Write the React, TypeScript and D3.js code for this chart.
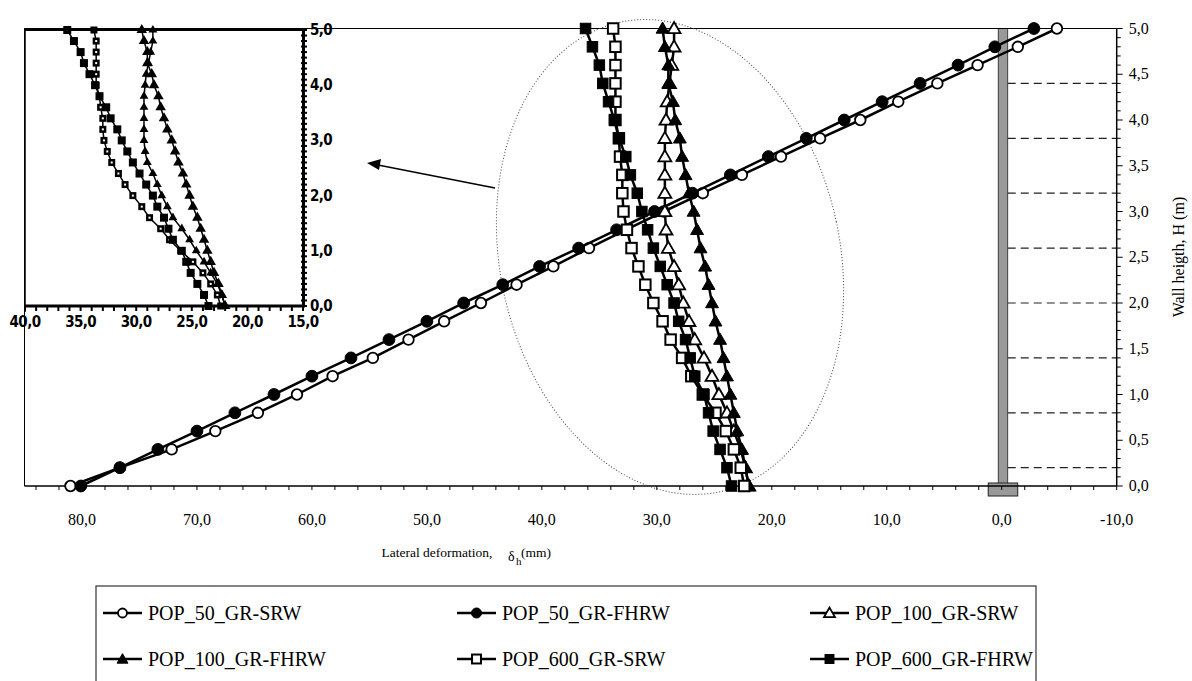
import React from "react";
import * as d3 from "d3";

// wall height (m) of every measured point
const heights = [0.0, 0.2, 0.4, 0.6, 0.8, 1.0, 1.2, 1.4, 1.6, 1.8, 2.0, 2.2, 2.4, 2.6, 2.8, 3.0, 3.2, 3.4, 3.6, 3.8, 4.0, 4.2, 4.4, 4.6, 4.8, 5.0];

// lateral deformation (mm) per series, bottom to top
const pop50Srw = [81.0, 76.7, 72.2, 68.4, 64.7, 61.3, 58.2, 54.7, 51.6, 48.5, 45.3, 42.2, 39.0, 35.9, 32.7, 29.4, 26.0, 22.6, 19.2, 15.8, 12.3, 9.0, 5.6, 2.1, -1.4, -4.8];
const pop50Fhrw = [80.1, 76.7, 73.4, 70.0, 66.7, 63.3, 60.0, 56.6, 53.3, 50.0, 46.8, 43.4, 40.2, 36.8, 33.5, 30.2, 26.9, 23.6, 20.3, 17.0, 13.7, 10.4, 7.1, 3.8, 0.6, -2.8];
const pop100Srw = [22.0, 22.3, 22.7, 23.3, 23.9, 24.6, 25.2, 25.9, 26.7, 27.2, 27.7, 28.1, 28.5, 29.0, 29.2, 29.3, 29.3, 29.3, 29.3, 29.3, 29.2, 29.1, 28.9, 28.7, 28.5, 28.5];
const pop100Fhrw = [22.0, 22.3, 22.6, 23.0, 23.3, 23.6, 23.9, 24.2, 24.5, 24.9, 25.2, 25.5, 25.8, 26.2, 26.5, 26.8, 27.2, 27.5, 27.8, 28.0, 28.4, 28.6, 29.0, 29.0, 29.3, 29.5];
const pop600Srw = [22.4, 22.7, 23.3, 24.0, 24.9, 26.0, 27.0, 27.8, 28.8, 29.5, 30.3, 31.0, 31.6, 32.2, 32.6, 32.9, 33.0, 33.0, 33.2, 33.3, 33.6, 33.6, 33.6, 33.6, 33.6, 33.8];
const pop600Fhrw = [23.5, 23.9, 24.5, 25.1, 25.5, 25.9, 26.7, 27.1, 27.5, 28.1, 28.5, 29.1, 29.7, 30.3, 30.8, 31.3, 31.7, 32.3, 32.7, 33.3, 33.7, 34.2, 34.7, 35.0, 35.6, 36.2];

const seriesNames = ["POP_50_GR-SRW", "POP_50_GR-FHRW", "POP_100_GR-SRW", "POP_100_GR-FHRW", "POP_600_GR-SRW", "POP_600_GR-FHRW"];
const seriesValues = [pop50Srw, pop50Fhrw, pop100Srw, pop100Fhrw, pop600Srw, pop600Fhrw];
const seriesMarkers = ["circleOpen", "circle", "triangleOpen", "triangle", "squareOpen", "square"];

const xTicks = [80, 70, 60, 50, 40, 30, 20, 10, 0, -10];
const yTicks = [0, 0.5, 1.0, 1.5, 2.0, 2.5, 3.0, 3.5, 4.0, 4.5, 5.0];
const reinforcement = [0.2, 0.8, 1.4, 2.0, 2.6, 3.2, 3.8, 4.4];

const insetXTicks = [40, 35, 30, 25, 20, 15];
const insetYTicks = [0, 1, 2, 3, 4, 5];

const fmt = v => v.toFixed(1).replace(".", ",");
const serif = "'Liberation Serif', 'Times New Roman', serif";
const narrow = "'Liberation Sans Narrow', 'DejaVu Sans Condensed', sans-serif";

const Marker = ({kind, cx, cy, scale = 1}) => {
    const open = kind.endsWith("Open");
    const fill = open ? "#fff" : "#000";
    if (kind.startsWith("circle")) {
        return <circle cx={cx} cy={cy} r={(open ? 5.3 : 5.9) * scale} fill={fill} stroke="#000" strokeWidth={open ? 1.8 : 1}/>;
    }
    if (kind.startsWith("square")) {
        const s = 10.5 * scale;
        return <rect x={cx - s / 2} y={cy - s / 2} width={s} height={s} fill={fill} stroke="#000" strokeWidth={open ? 2 : 1}/>;
    }
    const path = d3.symbol().type(d3.symbolTriangle).size(72 * scale * scale)();
    return <path d={path} transform={`translate(${cx},${cy + 1})`} fill={fill} stroke="#000" strokeWidth={open ? 1.8 : 1}/>;
};

const App = () => {
    const x = d3.scaleLinear().domain([85, -10]).range([24.5, 1116.7]);
    const y = d3.scaleLinear().domain([0, 5]).range([486, 28.5]);
    const xi = d3.scaleLinear().domain([40, 15]).range([25, 303]);
    const yi = d3.scaleLinear().domain([0, 5]).range([306, 30]);

    const line = d3.line().x(d => x(d[0])).y(d => y(d[1]));
    const insetLine = d3.line().x(d => xi(d[0])).y(d => yi(d[1]));

    const minorX = d3.range(84, -10.5, -2);
    const minorY = d3.range(0, 5.01, 0.1);
    const insetMinorX = d3.range(40, 14.5, -1);
    const insetMinorY = d3.range(0, 5.01, 0.1);

    const [x0, x1] = x.range();
    const wallX = x(0);

    const legendCols = [103, 457, 810];
    const legendRows = [613, 659];

    return (
        <svg width={1192} height={681} style={{position: "absolute", left: 0, top: 0, background: "#fff"}}>
            <rect width={1192} height={681} fill="#fff"/>

            {/* reinforcement layers */}
            {reinforcement.map(h => (
                <line key={h} x1={wallX + 6} x2={x1} y1={y(h)} y2={y(h)} stroke="#222" strokeWidth={1.2} strokeDasharray="8,5"/>
            ))}

            {/* wall and footing */}
            <rect x={wallX - 3.5} y={y(5)} width={9.5} height={y(0) - y(5)} fill="#999" stroke="#222" strokeWidth={0.8}/>
            <rect x={wallX - 13.5} y={483} width={29.5} height={13} fill="#999" stroke="#222" strokeWidth={1}/>

            {/* frame */}
            <line x1={x0} x2={x1} y1={y(5)} y2={y(5)} stroke="#000" strokeWidth={1}/>
            <line x1={x0} x2={x0} y1={y(5)} y2={y(0)} stroke="#000" strokeWidth={1}/>
            <line x1={x0} x2={x1} y1={y(0)} y2={y(0)} stroke="#000" strokeWidth={1.5}/>
            <line x1={x1} x2={x1} y1={y(5)} y2={y(0)} stroke="#000" strokeWidth={1.5}/>

            {minorX.map(v => (
                <line key={v} x1={x(v)} x2={x(v)} y1={y(0)} y2={y(0) + 4} stroke="#000" strokeWidth={1}/>
            ))}
            {minorY.map(v => (
                <line key={v} x1={x1} x2={x1 + (Math.round(v * 10) % 5 === 0 ? 6 : 4)} y1={y(v)} y2={y(v)} stroke="#000" strokeWidth={1}/>
            ))}
            {xTicks.map(v => (
                <text key={v} x={x(v)} y={525} textAnchor="middle" fontFamily={serif} fontSize={16}>{fmt(v)}</text>
            ))}
            {yTicks.map(v => (
                <text key={v} x={x1 + 12} y={y(v) + 5} fontFamily={serif} fontSize={16}>{fmt(v)}</text>
            ))}

            <text x={437} y={557} textAnchor="middle" fontFamily={serif} fontSize={13.5}>Lateral deformation,</text>
            <text x={508} y={561} fontFamily={serif} fontSize={14}>δ</text>
            <text x={516} y={565} fontFamily={serif} fontSize={11}>h</text>
            <text x={521} y={557} fontFamily={serif} fontSize={13.5}>(mm)</text>
            <text transform="translate(1184,257) rotate(-90)" textAnchor="middle" fontFamily={serif} fontSize={16}>Wall heigth, H (m)</text>

            {/* highlighted zone */}
            <ellipse cx={670} cy={257} rx={170} ry={240} transform="rotate(-12,670,257)" fill="none" stroke="#444" strokeWidth={1} strokeDasharray="1,2"/>
            <line x1={495} y1={188} x2={378} y2={165} stroke="#000" strokeWidth={1.5}/>
            <path d="M367,163 L381,159 L379,170 Z" fill="#000"/>

            {/* series */}
            {seriesValues.map((vals, i) => {
                const pts = vals.map((v, j) => [v, heights[j]]);
                return (
                    <g key={seriesNames[i]}>
                        <path d={line(pts)} fill="none" stroke="#000" strokeWidth={2.5}/>
                        {pts.map((p, j) => <Marker key={j} kind={seriesMarkers[i]} cx={x(p[0])} cy={y(p[1])}/>)}
                    </g>
                );
            })}

            {/* inset */}
            <g>
                <rect x={25} y={30} width={278} height={276} fill="#fff"/>
                {seriesValues.slice(2).map((vals, i) => {
                    const pts = vals.map((v, j) => [v, heights[j]]);
                    const kind = seriesMarkers[i + 2];
                    return (
                        <g key={i}>
                            <path d={insetLine(pts)} fill="none" stroke="#000" strokeWidth={1.5}/>
                            {pts.map((p, j) => {
                                const cx = xi(p[0]), cy = yi(p[1]);
                                if (kind === "square") {
                                    return <rect key={j} x={cx - 4} y={cy - 4} width={8} height={8} fill="#000"/>;
                                }
                                if (kind === "squareOpen") {
                                    return (
                                        <g key={j}>
                                            <rect x={cx - 3.5} y={cy - 3.5} width={7} height={7} fill="#000"/>
                                            <rect x={cx - 1} y={cy - 1} width={2} height={2} fill="#fff"/>
                                        </g>
                                    );
                                }
                                const d = d3.symbol().type(d3.symbolTriangle).size(kind === "triangle" ? 48 : 34)();
                                return <path key={j} d={d} transform={`translate(${cx},${cy})`} fill="#000"/>;
                            })}
                        </g>
                    );
                })}
                <line x1={25} x2={25} y1={29} y2={312} stroke="#000" strokeWidth={1.5}/>
                <line x1={24} x2={305} y1={29.5} y2={29.5} stroke="#000" strokeWidth={3}/>
                <line x1={303.5} x2={303.5} y1={28} y2={307} stroke="#000" strokeWidth={3}/>
                <line x1={24} x2={305} y1={306} y2={306} stroke="#000" strokeWidth={3}/>
                {insetMinorX.map(v => (
                    <line key={v} x1={xi(v)} x2={xi(v)} y1={306} y2={311} stroke="#000" strokeWidth={2}/>
                ))}
                {insetMinorY.map(v => (
                    <line key={v} x1={301} x2={307} y1={yi(v)} y2={yi(v)} stroke="#000" strokeWidth={2}/>
                ))}
                {insetXTicks.map(v => (
                    <text key={v} x={xi(v)} y={327} textAnchor="middle" fontFamily={narrow} fontWeight="bold" fontSize={15} letterSpacing={-0.6}>{fmt(v)}</text>
                ))}
                {insetYTicks.map(v => (
                    <text key={v} x={310} y={yi(v) + 5} fontFamily={narrow} fontWeight="bold" fontSize={15} letterSpacing={-0.6}>{fmt(v)}</text>
                ))}
            </g>

            {/* legend */}
            <rect x={96} y={586} width={940} height={120} fill="none" stroke="#333" strokeWidth={1.2}/>
            {seriesNames.map((name, i) => {
                const cx = legendCols[i % 3], cy = legendRows[Math.floor(i / 3)];
                return (
                    <g key={name}>
                        <line x1={cx} x2={cx + 39} y1={cy} y2={cy} stroke="#000" strokeWidth={2.5}/>
                        <Marker kind={seriesMarkers[i]} cx={cx + 19.5} cy={cy} scale={0.85}/>
                        <text x={cx + 45} y={cy + 7} fontFamily={serif} fontSize={20}>{name}</text>
                    </g>
                );
            })}
        </svg>
    );
};

export default App;
